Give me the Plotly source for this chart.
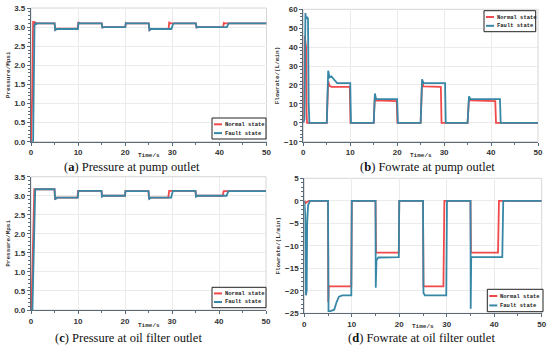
import plotly.graph_objects as go

# ---------------- data ----------------
# (a) Pressure at pump outlet
a_t_normal = [0, 0.25, 0.45, 0.55, 0.65, 0.75, 0.9, 1.1, 5.0, 5.15, 5.5, 9.9, 10.05, 10.3, 15.0, 15.15, 15.5, 20.0, 20.15, 20.4, 25.0, 25.15, 25.5, 29.2, 29.35, 29.6, 35.0, 35.15, 35.5, 40.8, 40.95, 41.2, 50]
a_v_normal = [0, 1.2, 3.16, 3.02, 3.15, 3.04, 3.12, 3.1, 3.1, 2.93, 2.96, 2.96, 3.13, 3.1, 3.1, 2.99, 3.0, 3.0, 3.11, 3.1, 3.1, 2.92, 2.95, 2.95, 3.12, 3.1, 3.1, 2.99, 3.0, 3.0, 3.11, 3.1, 3.1]
a_t_fault = [0, 0.45, 0.6, 0.75, 0.9, 1.0, 1.1, 1.3, 5.0, 5.15, 5.5, 9.95, 10.1, 10.4, 15.0, 15.15, 15.5, 20.0, 20.15, 20.4, 25.0, 25.15, 25.5, 29.8, 30.2, 30.4, 35.0, 35.15, 35.5, 41.6, 41.95, 50]
a_v_fault = [0, 0, 1.6, 3.08, 3.06, 3.12, 3.07, 3.1, 3.1, 2.92, 2.95, 2.95, 3.11, 3.1, 3.1, 2.99, 3.0, 3.0, 3.11, 3.1, 3.1, 2.92, 2.95, 2.95, 3.09, 3.1, 3.1, 2.99, 3.0, 3.0, 3.1, 3.1]

# (b) Flowrate at pump outlet
b_t_normal = [0, 0.1, 0.3, 0.45, 0.6, 0.7, 0.8, 5.0, 5.3, 5.6, 6.0, 9.9, 10.05, 15.0, 15.25, 15.5, 19.9, 20.05, 25.0, 25.3, 25.6, 29.3, 29.45, 35.0, 35.3, 35.6, 40.9, 41.05, 50]
b_v_normal = [0, 3, 46, 44, 40, 5, 0, 0, 22, 19.5, 19, 19, 0, 0, 14, 11.8, 11.5, 0, 0, 22, 19.3, 19, 0, 0, 13, 11.8, 11.5, 0, 0]
b_t_fault = [0, 0.25, 0.45, 0.55, 0.8, 1.0, 1.15, 1.3, 5.0, 5.3, 5.6, 6.0, 6.5, 7.2, 10.0, 10.15, 15.0, 15.25, 15.5, 20.0, 20.15, 25.0, 25.3, 25.6, 30.2, 30.35, 35.0, 35.3, 35.6, 41.9, 42.05, 50]
b_v_fault = [0, 2, 58, 55, 56, 55, 10, 0, 0, 27.5, 24, 24.5, 23, 21, 21, 0, 0, 15.5, 12.5, 12.5, 0, 0, 23, 21, 21, 0, 0, 14, 12.5, 12.5, 0, 0]

# (c) Pressure at oil filter outlet
c_t_normal = [0, 0.1, 0.7, 5.0, 5.1, 5.4, 9.9, 10.0, 15.0, 15.1, 15.4, 20.0, 20.1, 25.0, 25.1, 25.4, 29.2, 29.4, 35.0, 35.1, 35.4, 40.8, 41.0, 50]
c_v_normal = [0, 0, 3.17, 3.17, 2.93, 2.95, 2.95, 3.13, 3.13, 2.98, 3.0, 3.0, 3.12, 3.12, 2.92, 2.95, 2.95, 3.13, 3.13, 2.98, 3.0, 3.0, 3.12, 3.12]
c_t_fault = [0, 0.3, 0.9, 5.0, 5.15, 5.5, 9.95, 10.1, 15.0, 15.1, 15.4, 20.0, 20.1, 25.0, 25.15, 25.5, 29.8, 30.2, 35.0, 35.1, 35.4, 41.6, 42.0, 50]
c_v_fault = [0, 0, 3.17, 3.17, 2.9, 2.95, 2.95, 3.13, 3.13, 2.98, 3.0, 3.0, 3.12, 3.12, 2.92, 2.95, 2.95, 3.13, 3.13, 2.98, 3.0, 3.0, 3.12, 3.12]

# (d) Flowrate at oil filter outlet
d_t_normal = [0, 0.3, 0.5, 0.8, 1.0, 5.0, 5.05, 5.15, 9.9, 10.0, 15.0, 15.1, 19.9, 20.0, 25.0, 25.1, 29.3, 29.5, 35.0, 35.1, 40.8, 41.0, 50]
d_v_normal = [0, -0.5, -0.3, -0.1, 0, 0, -22.5, -19, -19, 0, 0, -11.5, -11.5, 0, 0, -19, -19, 0, 0, -11.5, -11.5, 0, 0]
d_t_fault = [0, 0.2, 0.35, 0.5, 0.6, 0.8, 1.0, 1.2, 5.0, 5.1, 5.5, 6.3, 6.8, 7.3, 8.0, 9.9, 10.0, 15.0, 15.05, 15.2, 15.6, 19.9, 20.0, 25.0, 25.1, 25.4, 29.9, 30.05, 35.0, 35.05, 35.15, 35.3, 41.7, 41.9, 50]
d_v_fault = [0, -3, -21, -20, -5, -1, -0.5, 0, 0, -24.5, -24.5, -24.2, -22.5, -21.3, -21, -21, 0, 0, -19.3, -13.2, -12.6, -12.5, 0, 0, -20.5, -21, -21, 0, 0, -24, -12.8, -12.5, -12.5, 0, 0]

series_names = ["Normal state", "Fault state"]
captions = [("a", "Pressure at pump outlet"), ("b", "Fowrate at pump outlet"),
            ("c", "Pressure at oil filter outlet"), ("d", "Fowrate at oil filter outlet")]
y_titles = ["Pressure/Mpsi", "Flowrate/(L/min)", "Pressure/Mpsi", "Flowrate/(L/min)"]
x_title = "Time/s"

# ---------------- styling ----------------
RED = "#f0494b"
BLUE = "#3787a6"
W, H = 550, 349

def px_x(v):
    return v / W

def px_y(v):
    return 1 - v / H

panels = [
    dict(x=(31, 266.5), y=(8, 141.7), yr=[0, 3.5], dt=0.5, fmt=".1f",
         data=(a_t_normal, a_v_normal, a_t_fault, a_v_fault),
         legend=(212, 118, 266, 139), cap=(132, 167), xt=155),
    dict(x=(303.3, 538), y=(9.3, 141.7), yr=[-10, 60], dt=10, fmt="d",
         data=(b_t_normal, b_v_normal, b_t_fault, b_v_fault),
         legend=(484, 10.7, 535.7, 31.7), cap=(427, 167), xt=155),
    dict(x=(31, 266), y=(176.7, 310), yr=[0, 3.5], dt=0.5, fmt=".1f",
         data=(c_t_normal, c_v_normal, c_t_fault, c_v_fault),
         legend=(212, 287.3, 266, 307.7), cap=(128, 338), xt=325),
    dict(x=(304.3, 541.7), y=(178.3, 313.3), yr=[-25, 5], dt=5, fmt="d",
         data=(d_t_normal, d_v_normal, d_t_fault, d_v_fault),
         legend=(487.3, 289.3, 543, 311.7), cap=(422, 338), xt=326.5),
]

fig = go.Figure()
shapes = []
annotations = []
tick_font = dict(family="Liberation Sans", size=8, color="#333333", weight="bold")
title_font = dict(family="Liberation Mono", size=6, color="#333333", weight="bold")

for i, p in enumerate(panels):
    k = "" if i == 0 else str(i + 1)
    xa, ya = "x" + k, "y" + k
    tn, vn, tf, vf = p["data"]
    fig.add_trace(go.Scatter(x=tn, y=vn, mode="lines", name=series_names[0],
                             line=dict(color=RED, width=1.8), xaxis=xa, yaxis=ya,
                             showlegend=False))
    fig.add_trace(go.Scatter(x=tf, y=vf, mode="lines", name=series_names[1],
                             line=dict(color=BLUE, width=1.8), xaxis=xa, yaxis=ya,
                             showlegend=False))
    fig.layout["xaxis" + k] = dict(
        domain=[px_x(p["x"][0]), px_x(p["x"][1])], anchor=ya, range=[0, 50],
        dtick=10, showgrid=True, gridcolor="#ebebeb", gridwidth=1, zeroline=False,
        showline=True, linecolor="#5a6a78", linewidth=1.2, ticks="outside",
        ticklen=3, tickcolor="#5a6a78", tickfont=tick_font, automargin=False,
        minor=dict(dtick=5, ticks="outside", ticklen=2, tickcolor="#5a6a78", showgrid=False))
    fig.layout["yaxis" + k] = dict(
        domain=[px_y(p["y"][1]), px_y(p["y"][0])], anchor=xa, range=p["yr"],
        dtick=p["dt"], tickformat=p["fmt"], showgrid=True, gridcolor="#ebebeb",
        gridwidth=1, zeroline=False, showline=True, linecolor="#5a6a78",
        linewidth=1.2, ticks="outside", ticklen=3, tickcolor="#5a6a78",
        tickfont=tick_font, automargin=False,
        minor=dict(nticks=5, ticks="outside", ticklen=2, tickcolor="#5a6a78", showgrid=False),
        title=dict(text=y_titles[i], font=title_font, standoff=3))
    # x-axis title
    annotations.append(dict(text=x_title, xref="paper", yref="paper",
                            x=px_x((p["x"][0] + p["x"][1]) / 2), y=px_y(p["xt"]),
                            xanchor="center", yanchor="middle", showarrow=False,
                            font=title_font))
    # light frame on top/right
    shapes.append(dict(type="rect", xref=xa + " domain", yref=ya + " domain",
                       x0=0, x1=1, y0=0, y1=1, line=dict(color="#d6d6d6", width=1),
                       layer="below"))
    # manual legend box
    lx0, ly0, lx1, ly1 = p["legend"]
    shapes.append(dict(type="rect", xref="paper", yref="paper",
                       x0=px_x(lx0), x1=px_x(lx1), y0=px_y(ly1), y1=px_y(ly0),
                       line=dict(color="#222222", width=1), fillcolor="white"))
    for j, (nm, col) in enumerate(zip(series_names, [RED, BLUE])):
        yy = ly0 + (ly1 - ly0) * (0.3 + 0.42 * j)
        shapes.append(dict(type="line", xref="paper", yref="paper",
                           x0=px_x(lx0 + 2), x1=px_x(lx0 + 10), y0=px_y(yy), y1=px_y(yy),
                           line=dict(color=col, width=2)))
        annotations.append(dict(text=nm, xref="paper", yref="paper", x=px_x(lx0 + 11),
                                y=px_y(yy), xanchor="left", yanchor="middle",
                                showarrow=False,
                                font=dict(family="Liberation Mono", size=5.5,
                                          color="#222222", weight="bold")))
    # caption
    letter, text = captions[i]
    annotations.append(dict(text="(<b>%s</b>) %s" % (letter, text), xref="paper",
                            yref="paper", x=px_x(p["cap"][0]), y=px_y(p["cap"][1]),
                            xanchor="center", yanchor="middle", showarrow=False,
                            font=dict(family="Liberation Serif", size=12.5, color="#111111")))

fig.update_layout(width=W, height=H, margin=dict(l=0, r=0, t=0, b=0),
                  paper_bgcolor="white", plot_bgcolor="white",
                  shapes=shapes, annotations=annotations, showlegend=False)

fig.write_html("out.html", config={"displayModeBar": False},
               post_script="document.body.style.margin='0';")
